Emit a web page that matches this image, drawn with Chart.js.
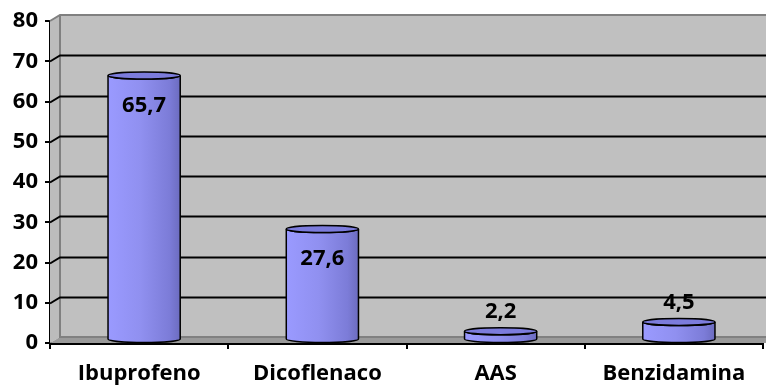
<!DOCTYPE html>
<html lang="pt">
<head>
    <meta charset="UTF-8">
    <title>Anti-inflamatórios</title>
    <script src="https://cdn.jsdelivr.net/npm/chart.js"></script>
    <style>
        body {
            margin: 0;
            padding: 0;
            background: #ffffff;
        }
        .chart-box {
            width: 766px;
            height: 385px;
            position: relative;
        }
    </style>
</head>
<body>
    <div class="chart-box">
        <canvas id="drugChart"></canvas>
    </div>

    <script>
        // Values per drug (%)
        const drugs = ['Ibuprofeno', 'Dicoflenaco', 'AAS', 'Benzidamina'];
        const shares = [65.7, 27.6, 2.2, 4.5];
        const shareLabels = ['65,7', '27,6', '2,2', '4,5'];
        const yTicks = [0, 10, 20, 30, 40, 50, 60, 70, 80];

        const FONT = "'Open Sans', sans-serif";
        const DX = 10, DY = -6;   // depth offset of the back wall

        // Gray walls, floor and gridlines behind the bars
        const wallPlugin = {
            id: 'wall',
            beforeDatasetsDraw(chart) {
                const { ctx, chartArea: a, scales: { y } } = chart;
                const right = chart.width;
                ctx.save();
                // back wall
                ctx.fillStyle = '#c0c0c0';
                ctx.fillRect(a.left + DX, a.top + DY, right - a.left - DX, a.bottom - a.top);
                // side wall
                ctx.beginPath();
                ctx.moveTo(a.left, a.top);
                ctx.lineTo(a.left + DX, a.top + DY);
                ctx.lineTo(a.left + DX, a.bottom + DY);
                ctx.lineTo(a.left, a.bottom);
                ctx.closePath();
                ctx.fillStyle = '#bcbcbc';
                ctx.fill();
                // floor
                ctx.beginPath();
                ctx.moveTo(a.left, a.bottom);
                ctx.lineTo(a.left + DX, a.bottom + DY);
                ctx.lineTo(right, a.bottom + DY);
                ctx.lineTo(right, a.bottom);
                ctx.closePath();
                ctx.fillStyle = '#9a9a9a';
                ctx.fill();

                // wall edges
                ctx.strokeStyle = '#808080';
                ctx.lineWidth = 2;
                ctx.beginPath();
                ctx.moveTo(a.left, a.top);
                ctx.lineTo(a.left + DX, a.top + DY);
                ctx.lineTo(right, a.top + DY);
                ctx.moveTo(a.left + DX, a.top + DY);
                ctx.lineTo(a.left + DX, a.bottom + DY);
                ctx.lineTo(right, a.bottom + DY);
                ctx.stroke();

                // gridlines
                ctx.strokeStyle = '#000000';
                ctx.lineWidth = 2;
                yTicks.forEach(v => {
                    if (v === 0 || v === 80) return;
                    const py = Math.round(y.getPixelForValue(v)) + 0.5;
                    ctx.beginPath();
                    ctx.moveTo(a.left, py);
                    ctx.lineTo(a.left + DX, py + DY);
                    ctx.lineTo(right, py + DY);
                    ctx.stroke();
                });
                ctx.restore();
            }
        };

        // Cylinders and value labels, placed from the bar elements
        const cylinderPlugin = {
            id: 'cylinders',
            afterDatasetsDraw(chart) {
                const { ctx } = chart;
                const meta = chart.getDatasetMeta(0);
                ctx.save();
                meta.data.forEach((bar, i) => {
                    const w = bar.width;
                    const cx = bar.x + DX / 2;
                    const top = bar.y + DY / 2;
                    const bottom = bar.base + DY / 2;
                    const rx = w / 2, ry = 3.5;
                    const l = cx - rx, r = cx + rx;

                    const grad = ctx.createLinearGradient(l, 0, r, 0);
                    grad.addColorStop(0, '#9a9aff');
                    grad.addColorStop(0.45, '#9090f0');
                    grad.addColorStop(0.85, '#7c7cd8');
                    grad.addColorStop(1, '#6c6cc0');

                    // body
                    ctx.beginPath();
                    ctx.moveTo(l, top);
                    ctx.lineTo(l, bottom);
                    ctx.ellipse(cx, bottom, rx, ry, 0, Math.PI, 0, true);
                    ctx.lineTo(r, top);
                    ctx.ellipse(cx, top, rx, ry, 0, 0, Math.PI, false);
                    ctx.closePath();
                    ctx.fillStyle = grad;
                    ctx.fill();
                    ctx.strokeStyle = '#000000';
                    ctx.lineWidth = 1.5;
                    ctx.stroke();

                    // top cap
                    ctx.beginPath();
                    ctx.ellipse(cx, top, rx, ry, 0, 0, Math.PI * 2);
                    ctx.fillStyle = '#7c7cdc';
                    ctx.fill();
                    ctx.stroke();

                    // value label
                    const inside = bottom - top > 60;
                    ctx.fillStyle = '#000000';
                    ctx.font = `bold 22px ${FONT}`;
                    ctx.textAlign = 'center';
                    ctx.textBaseline = 'middle';
                    ctx.fillText(shareLabels[i], cx, inside ? top + 30 : top - 19);
                });
                ctx.restore();
            }
        };

        const ctx = document.getElementById('drugChart').getContext('2d');
        new Chart(ctx, {
            type: 'bar',
            data: {
                labels: drugs,
                datasets: [{
                    data: shares,
                    backgroundColor: 'rgba(0,0,0,0)',
                    borderWidth: 0,
                    barPercentage: 0.405,
                    categoryPercentage: 1
                }]
            },
            options: {
                responsive: true,
                maintainAspectRatio: false,
                animation: false,
                layout: { padding: { top: 21, right: 3, left: 0, bottom: 0 } },
                plugins: {
                    legend: { display: false },
                    tooltip: { enabled: false }
                },
                scales: {
                    x: {
                        afterFit(scale) { scale.height = 42; },
                        grid: {
                            offset: true,
                            drawOnChartArea: false,
                            tickLength: 6,
                            color: '#000000',
                            lineWidth: 2
                        },
                        border: { color: '#000000', width: 3 },
                        ticks: {
                            color: '#000000',
                            padding: 12,
                            font: { family: FONT, size: 22, weight: 'bold' }
                        }
                    },
                    y: {
                        min: 0,
                        max: 80,
                        afterFit(scale) { scale.width = 50; },
                        afterBuildTicks(scale) {
                            scale.ticks = yTicks.map(v => ({ value: v }));
                        },
                        grid: {
                            drawOnChartArea: false,
                            tickLength: 5,
                            color: '#000000',
                            lineWidth: 2
                        },
                        border: { color: '#000000', width: 2 },
                        ticks: {
                            color: '#000000',
                            padding: 7,
                            font: { family: FONT, size: 22, weight: 'bold' }
                        }
                    }
                }
            },
            plugins: [wallPlugin, cylinderPlugin]
        });
    </script>
</body>
</html>
